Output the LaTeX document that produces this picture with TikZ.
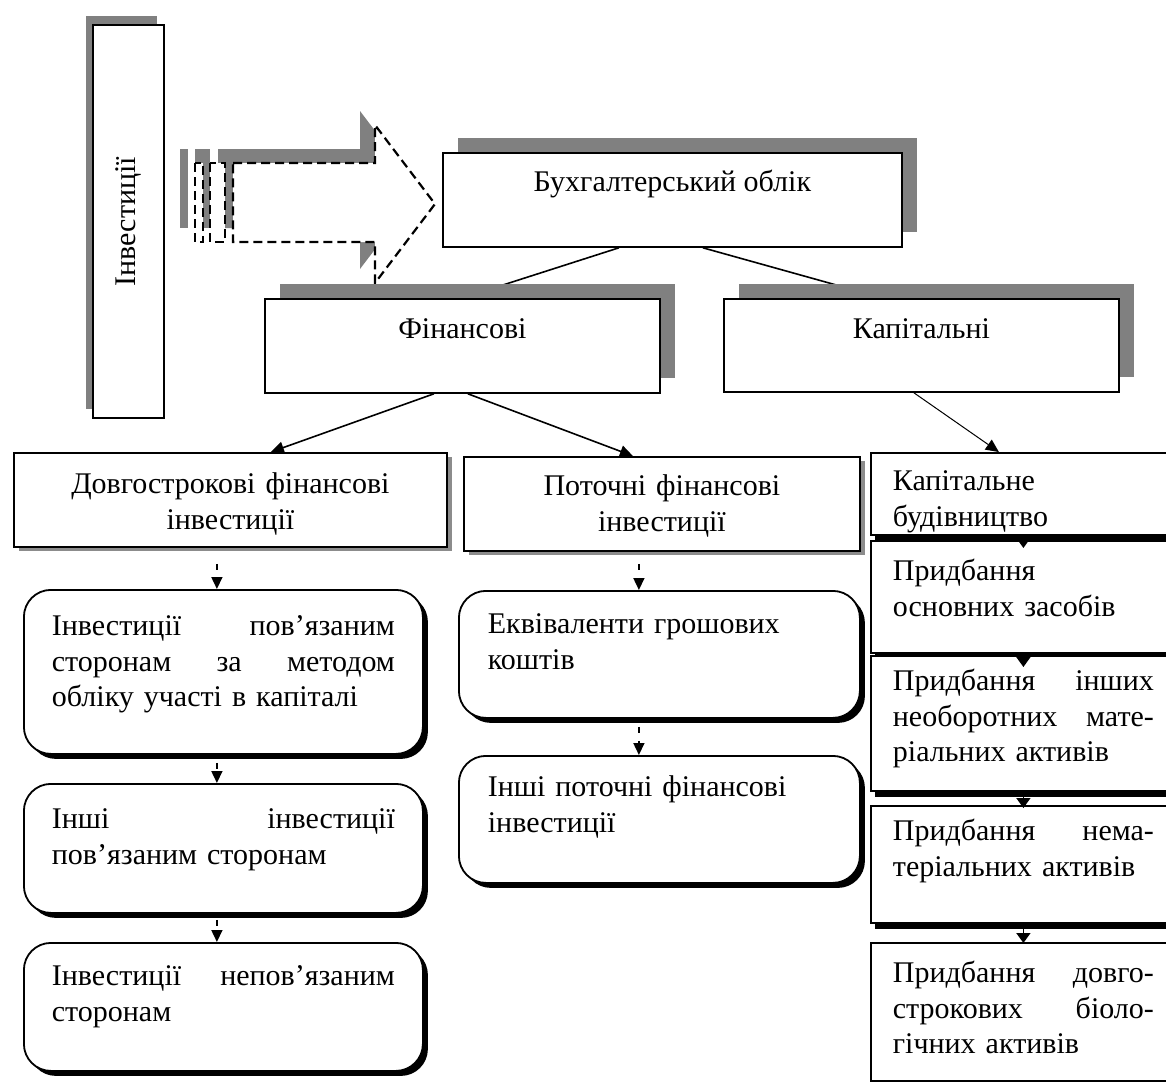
\documentclass[tikz,border=0pt]{standalone}
\usepackage{fontspec}
\setmainfont{Liberation Serif}
\usetikzlibrary{shadows,arrows.meta,backgrounds,calc}
\begin{document}
\begin{tikzpicture}[x=1pt,y=-1pt,
  every node/.style={font=\fontsize{30}{35.5}\selectfont, text=black},
  box/.style={draw=black, line width=1.8pt, fill=white, inner ysep=0pt, anchor=north west},
  topshadow/.style={drop shadow={shadow xshift=15pt, shadow yshift=15pt, fill=black!50, opacity=1}},
  lowshadow/.style={drop shadow={shadow xshift=5pt, shadow yshift=-4pt, fill=black!45, opacity=1}},
  rshadow/.style={drop shadow={shadow xshift=5pt, shadow yshift=-5pt, fill=black, opacity=1}},
  kshadow/.style={drop shadow={shadow xshift=4pt, shadow yshift=-6pt, fill=black, opacity=1}},
  rbox/.style={box, rshadow, rounded corners=27pt, inner xsep=28pt, text width=343pt, align=left},
  ebox/.style={box, rshadow, rounded corners=27pt, inner xsep=29pt, text width=343pt, align=left},
  kbox/.style={box, kshadow, inner xsep=22pt, text width=261pt, align=left},
  shadowfill/.style={fill=black!50},
  dashedshape/.style={draw=black, fill=white, line width=2.2pt, dash pattern=on 9pt off 5pt},
  conn/.style={draw=black, line width=1.6pt},
  arr/.style={draw=black, line width=1.6pt, -{Triangle[length=13pt,width=12pt]}},
  thinarr/.style={draw=black, line width=1pt, -{Triangle[length=13pt,width=12pt]}},
  darr/.style={draw=black, line width=1.6pt, dash pattern=on 6pt off 8pt, -{Triangle[length=12pt,width=11pt]}},
  karr/.style={draw=black, line width=1.6pt, -{Triangle[length=10pt,width=14pt]}}
]
\useasboundingbox (0,0) rectangle (1166,1081);

% striped arrow: shadow
\begin{scope}[shift={(-15,-14)}]
  \fill[shadowfill] (233,163) -- (375,163) -- (375,125) -- (435,204) -- (375,283) -- (375,242) -- (233,242) -- cycle;
  \fill[shadowfill] (195,163) rectangle (203,242);
  \fill[shadowfill] (210,163) rectangle (225,242);
\end{scope}
% striped arrow: outline
\path[dashedshape] (233,163) -- (375,163) -- (375,125) -- (435,204) -- (375,283) -- (375,242) -- (233,242) -- cycle;
\path[dashedshape] (195,163) rectangle (203,242);
\path[dashedshape] (210,163) rectangle (225,242);

% vertical box
\fill[shadowfill] (86,16) rectangle (157,409);
\node[box, rotate=90, anchor=center, minimum width=393pt, text height=42pt, text depth=29pt] (inv) at (128.5,221.5) {Інвестиції};

% top level
\node[box, topshadow, minimum width=459pt, text height=39pt, text depth=55pt] (buh) at (442,152) {Бухгалтерський облік};
\node[box, topshadow, minimum width=395pt, text height=40pt, text depth=54pt] (fin) at (264,298) {Фінансові};
\node[box, topshadow, minimum width=395pt, text height=40pt, text depth=53pt] (cap) at (723,298) {Капітальні};

% second level
\node[box, lowshadow, inner xsep=10pt, text width=413pt, align=center, text height=41pt, text depth=53pt] (dovg) at (13,452) {Довгострокові фінансові\\ інвестиції};
\node[box, lowshadow, inner xsep=10pt, text width=376pt, align=center, text height=39pt, text depth=55pt] (pot) at (463,456) {Поточні фінансові\\ інвестиції};

% left column
\node[rbox, text height=46pt, text depth=118pt] (r1) at (23,589) {Інвестиції\hfill пов’язаним\\ сторонам\hfill за\hfill методом\\ обліку участі в капіталі};
\node[rbox, text height=45pt, text depth=84pt] (r2) at (23,783) {Інші\hfill інвестиції\\ пов’язаним сторонам};
\node[rbox, text height=43pt, text depth=85pt] (r3) at (23,942) {Інвестиції\hfill непов’язаним\\ сторонам};

% middle column
\node[ebox, text height=43pt, text depth=84pt] (e1) at (458,590) {Еквіваленти грошових\\ коштів};
\node[ebox, text height=41pt, text depth=86pt] (e2) at (458,755) {Інші поточні фінансові\\ інвестиції};

% right column
\node[kbox, text height=38pt, text depth=44pt] (k1) at (870,452) {Капітальне\\ будівництво};
\node[kbox, text height=40pt, text depth=72pt] (k2) at (870,540) {Придбання\\ основних засобів};
\node[kbox, text height=35pt, text depth=100pt] (k3) at (870,655) {Придбання\hfill інших\\ необоротних\hfill мате-\\ ріальних активів};
\node[kbox, text height=35pt, text depth=82pt] (k4) at (870,805) {Придбання\hfill нема-\\ теріальних активів};
\node[kbox, text height=40pt, text depth=98pt] (k5) at (870,942) {Придбання\hfill довго-\\ строкових\hfill біоло-\\ гічних активів};

% connectors hidden behind shadows
\begin{scope}[on background layer]
  \draw[conn] ([xshift=-53.5pt]buh.south) -- (fin.north);
  \draw[conn] ([xshift=30.5pt]buh.south) -- ([xshift=-38.5pt]cap.north);
\end{scope}

\draw[arr] ([xshift=-28.5pt]fin.south) -- ([xshift=40.5pt]dovg.north);
\draw[arr] ([xshift=5.5pt]fin.south) -- ([xshift=-29pt]pot.north);
\draw[thinarr] ([xshift=-7.5pt]cap.south) -- ([xshift=-24.5pt]k1.north);

\draw[darr] ([xshift=-13.5pt,yshift=-16pt]dovg.south) -- ([xshift=-6.5pt]r1.north);
\draw[darr] ([xshift=-6.5pt,yshift=-8pt]r1.south) -- ([xshift=-6.5pt]r2.north);
\draw[darr] ([xshift=-6.5pt,yshift=-6pt]r2.south) -- ([xshift=-6.5pt]r3.north);
\draw[darr] ([xshift=-23pt,yshift=-12pt]pot.south) -- ([xshift=-20.5pt]e1.north);
\draw[darr] ([xshift=-20.5pt,yshift=-8pt]e1.south) -- ([xshift=-20.5pt]e2.north);

\draw[karr] (k1.south) -- ([yshift=-8pt]k2.north);
\draw[karr] (k2.south) -- ([yshift=-12pt]k3.north);
\draw[karr] (k3.south) -- ([yshift=-3pt]k4.north);
\draw[karr] (k4.south) -- ([yshift=-1pt]k5.north);
\end{tikzpicture}
\end{document}
